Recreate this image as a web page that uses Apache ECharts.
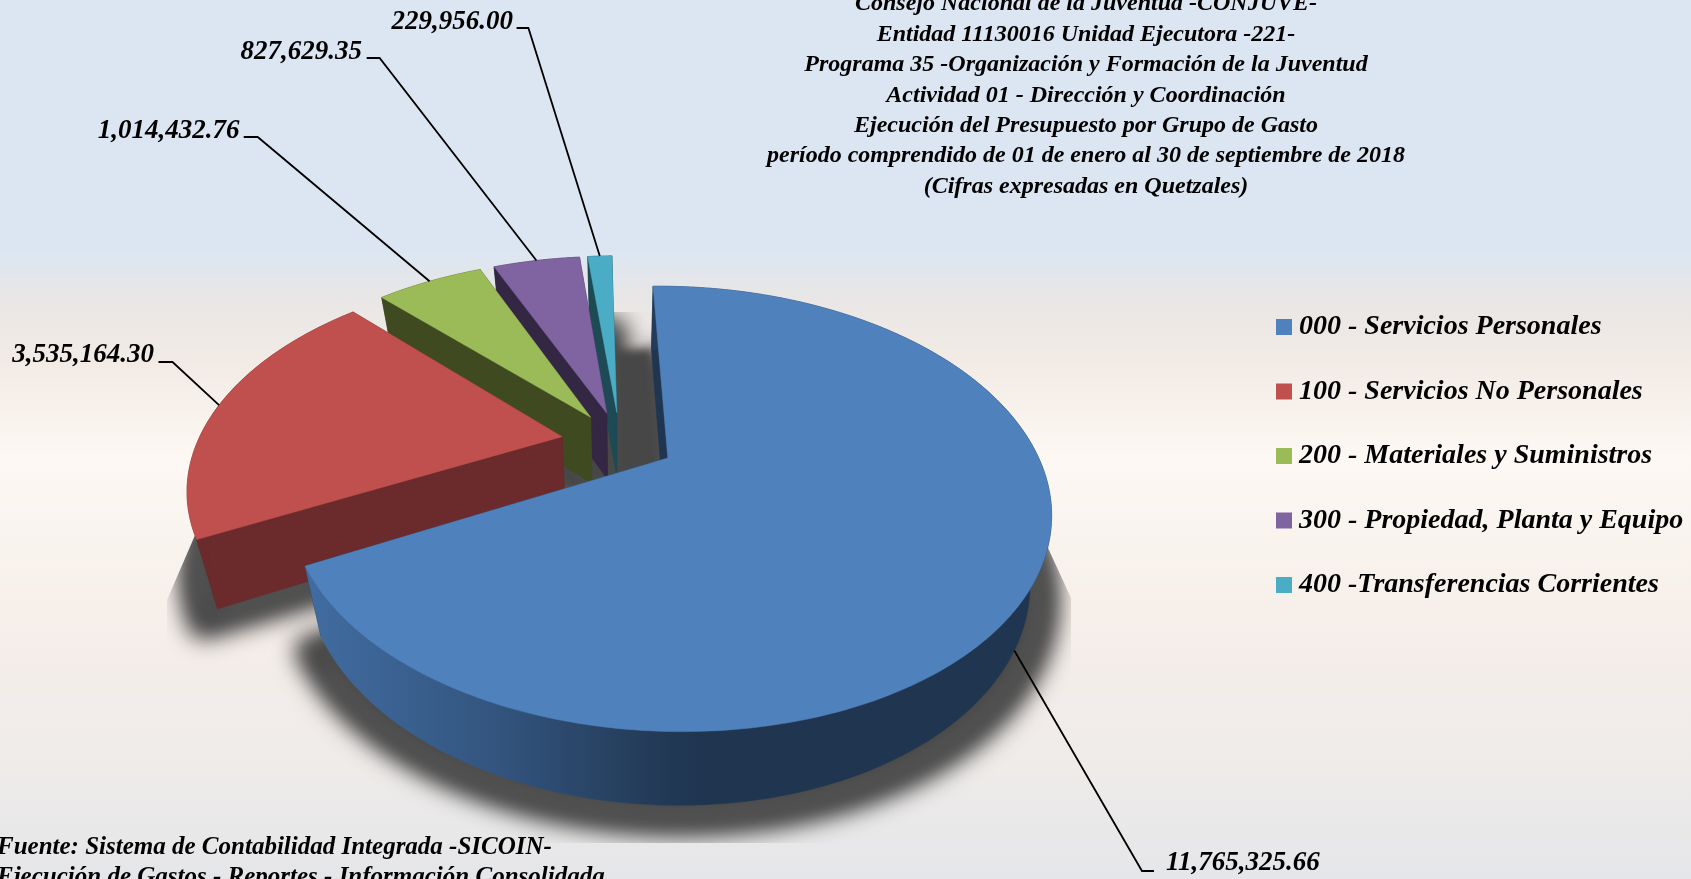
<!DOCTYPE html>
<html><head><meta charset="utf-8">
<style>html,body{margin:0;padding:0;background:#fff}#c{width:1691px;height:879px}</style>
<script src="https://cdn.jsdelivr.net/npm/echarts@6/dist/echarts.min.js"></script>
</head><body><div id="c"></div>
<script>
const categories = ['000 - Servicios Personales','100 - Servicios No Personales','200 - Materiales y Suministros','300 - Propiedad, Planta y Equipo','400 -Transferencias Corrientes'];
const values = [11765325.66, 3535164.30, 1014432.76, 827629.35, 229956.00];
const topColors = ['#4f81bd','#c0504d','#9bbb59','#8064a2','#4bacc6'];
const wallColors = ['#1f3550','#6b2a2b','#3f4a20','#332744','#1d4a55'];
const explode = [0.15,0.162,0.15,0.15,0.15];
const titleLines = ['Consejo Nacional de la Juventud -CONJUVE-','Entidad 11130016 Unidad Ejecutora -221-','Programa 35 -Organización y Formación de la Juventud','Actividad 01 - Dirección y Coordinación','Ejecución del Presupuesto por Grupo de Gasto','período comprendido de 01 de enero al 30 de septiembre de 2018','(Cifras expresadas en Quetzales)'];
const footLines = ['Fuente: Sistema de Contabilidad Integrada -SICOIN-','Ejecución de Gastos - Reportes - Información Consolidada'];

// leader layout: elbow, horizontal end, text anchor
const leaders = [
  {elbow:[1142,871],end:[1154,871],text:[1166,863],align:'left',fromBottom:true},
  {elbow:[172.5,362],end:[158.5,362],text:[154,355],align:'right'},
  {elbow:[257.7,137],end:[243.7,137],text:[239.5,131],align:'right'},
  {elbow:[379.6,58],end:[366.7,58],text:[362,52],align:'right'},
  {elbow:[528.4,28],end:[516.6,28],text:[513,22.5],align:'right'}
];
// perspective pie geometry
const G = {cx:620,cy:442,R:364.5,A:203.8,p:0.225,start:-1.1,k:0.95,h:66.9,g:0.0235};
const total = values.reduce((a,b)=>a+b,0);
let acc = G.start;
const spans = values.map(v=>{const a=acc; acc+=v/total*360; return [a,acc];});
const rad = d=>d*Math.PI/180;
function pt(i,deg,r){
  const m=rad((spans[i][0]+spans[i][1])/2), t=rad(deg), e=explode[i];
  const X=e*Math.sin(m)+r*Math.sin(t), Y=e*Math.cos(m)+r*Math.cos(t), d=1+G.p*Y;
  return [G.cx+G.R*X/d, G.cy-G.A*Y/d];
}
const low = q=>[G.cx+(q[0]-G.cx)*G.k, q[1]+G.h+G.g*(q[1]-G.cy)];
function arc(i){const [a,b]=spans[i],n=Math.max(4,Math.ceil(b-a)),o=[];for(let j=0;j<=n;j++)o.push(pt(i,a+(b-a)*j/n,1));return o;}
const fmt = v=>v.toLocaleString('en-US',{minimumFractionDigits:2,maximumFractionDigits:2});
const FONT = 'italic bold 27px "Liberation Serif"';
const poly=(points,fill)=>({type:'polygon',shape:{points},style:{fill,stroke:fill,lineWidth:0.5},silent:true});
const blueWall={type:'linear',global:true,x:310,y:0,x2:700,y2:0,colorStops:[{offset:0,color:'#416ca0'},{offset:.47,color:'#33557f'},{offset:.81,color:'#263f5e'},{offset:1,color:'#1f3550'}]};

function sliceItem(i){
  return function(params,api){
    api.value(0);
    const top=arc(i), bot=top.map(low), apex=pt(i,0,0), apexB=low(apex);
    const a0=top[0], a1=top[top.length-1], wall=wallColors[i];
    const L=leaders[i];
    const mid=pt(i,(spans[i][0]+spans[i][1])/2,1);
    const anchor=L.fromBottom?low(mid):mid;
    return {type:'group',children:[
      poly([apex,a0,low(a0),apexB],wall),
      poly([apex,a1,low(a1),apexB],wall),
      poly(top.concat(bot.slice().reverse()),i===0?blueWall:wall),
      poly([apex].concat(top),topColors[i]),
      {type:'polyline',shape:{points:[anchor,L.elbow,L.end]},style:{fill:null,stroke:'#000',lineWidth:1.8},silent:true},
      {type:'text',silent:true,style:{text:fmt(values[i]),x:L.text[0],y:L.text[1],align:L.align,verticalAlign:'middle',font:FONT,fill:'#000'}}
    ]};
  };
}
const OFF=3000; // shape sits off-canvas, only its soft shadow lands on the chart
const shadowStyle={fill:'#474747',stroke:'#474747',lineWidth:32,lineJoin:'round',shadowBlur:22,shadowOffsetX:OFF,shadowColor:'#474747'};
function shadowPt(q){return [G.cx+(q[0]-G.cx)*1.035-OFF,q[1]+15];}
function shadowItem(){
  const kids=values.map((v,i)=>{
    const pts=[shadowPt(low(pt(i,0,0)))].concat(arc(i).map(low).map(shadowPt));
    return {type:'polygon',shape:{points:pts},style:shadowStyle,silent:true};
  });
  // the notch between the last slice and the first one is shaded too
  const n=arc(4), blueFar=low(arc(0)[0]), cyanFar=low(n[n.length-1]), blueHub=low(pt(0,0,0)), cyanHub=low(pt(4,0,0));
  const cyanUpper=[cyanFar[0]+(cyanHub[0]-cyanFar[0])*0.2,blueFar[1]];
  const hub=[cyanUpper,blueFar,blueHub,cyanHub].map(q=>[q[0]-OFF,q[1]]);
  kids.push({type:'polygon',shape:{points:hub},style:{fill:'#474747',shadowBlur:8,shadowOffsetX:OFF,shadowColor:'#474747'},silent:true});
  return {type:'group',
    clipPath:{type:'polygon',shape:{points:[[196,312],[1048,312],[1048,548],[1071,598],[1071,843],[167,843],[167,600],[196,533]]}},
    children:kids};
}
const series=[{type:'custom',name:'sombra',coordinateSystem:'none',silent:true,renderItem:shadowItem,data:[[0]],animation:false}];
for(let i=4;i>=0;i--){
  series.push({type:'custom',name:categories[i],coordinateSystem:'none',renderItem:sliceItem(i),data:[[values[i]]],itemStyle:{color:topColors[i]},animation:false});
}
const chart=echarts.init(document.getElementById('c'),null,{renderer:'canvas'});
chart.setOption({
  animation:false,
  backgroundColor:{type:'linear',x:0,y:0,x2:0,y2:1,colorStops:[
    {offset:0,color:'#dce6f2'},{offset:.285,color:'#dce6f2'},{offset:.335,color:'#e8e6e6'},{offset:.41,color:'#f2ebe5'},{offset:.52,color:'#fdf8f3'},{offset:.72,color:'#f5eee9'},{offset:.88,color:'#eeebe9'},{offset:1,color:'#e5e6e9'}]},
  tooltip:{show:false},
  title:{text:titleLines.join('\n'),left:1081,top:-16,textAlign:'center',
    textStyle:{fontFamily:'Liberation Serif',fontStyle:'italic',fontWeight:'bold',fontSize:24,lineHeight:30.4,color:'#000'}},
  legend:{orient:'vertical',left:1271,top:307,data:categories,icon:'rect',itemWidth:16,itemHeight:16,itemGap:34.5,selectedMode:false,
    textStyle:{fontFamily:'Liberation Serif',fontStyle:'italic',fontWeight:'bold',fontSize:28,lineHeight:30,color:'#000',padding:[0,0,0,2]}},
  graphic:[{type:'text',left:-3,top:833,silent:true,style:{text:footLines.join('\n'),font:'italic bold 25px "Liberation Serif"',lineHeight:30,fill:'#000'}}],
  series
});
</script></body></html>
